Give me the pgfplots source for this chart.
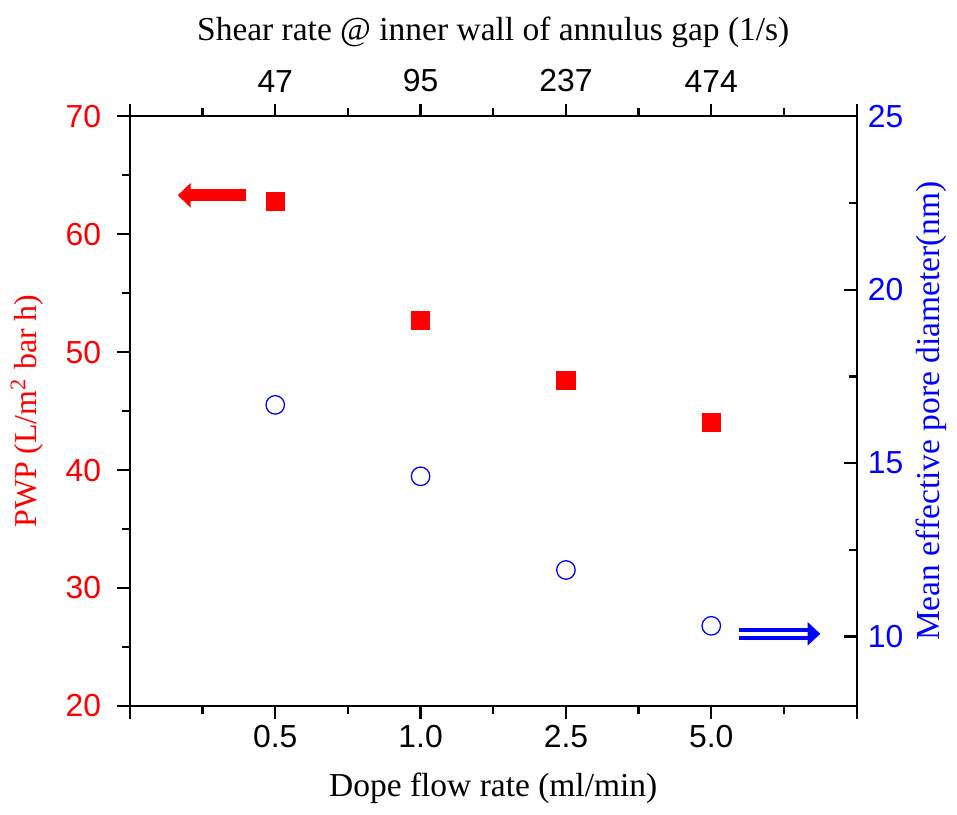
\documentclass[border=0pt]{standalone}
\usepackage{pgfplots}
\pgfplotsset{compat=1.18}
\usepackage{fontspec}
\setmainfont{Liberation Serif}
\newfontfamily\arial{Liberation Sans}
\usetikzlibrary{arrows.meta}

% PWP (left axis) and pore size (right axis) vs dope flow rate
\pgfplotstableread{
x pwp
1 62.8
2 52.7
3 47.6
4 44.0
}\pwpdata
\pgfplotstableread{
x pore
1 16.68
2 14.62
3 11.92
4 10.31
}\poredata

\pgfplotsset{
  twin/.style={
    scale only axis, width=228pt, height=185pt,
    xmin=0, xmax=5,
    xtick={0,1,2,3,4,5}, minor x tick num=1,
    tick align=outside,
    major tick length=4pt, minor tick length=2.5pt,
    tick style={black, line width=0.7pt},
    axis line style={line width=0.7pt},
    ticklabel style={font=\arial\fontsize{10}{12}\selectfont},
    label style={font=\fontsize{10.5}{12}\selectfont},
    /pgf/number format/assume math mode=true,
  },
}

\begin{document}
\begin{tikzpicture}
\begin{axis}[
    twin,
    axis x line*=bottom, axis y line*=left,
    xticklabels={,0.5,1.0,2.5,5.0,},
    xticklabel style={yshift=1.5pt},
    ymin=20, ymax=70, ytick={20,30,...,70}, minor y tick num=1,
    yticklabel style={red, xshift=-1.5pt},
    xlabel={Dope flow rate (ml/min)},
    xlabel style={yshift=-1pt},
    ylabel={PWP (L/m\textsuperscript{2} bar h)},
    ylabel style={red, font=\fontsize{10}{12}\selectfont},
]
    \addplot[only marks, mark=square*, mark size=2.8pt, red] table[x=x, y=pwp] {\pwpdata};
    \draw[red, line width=3.8pt, -{Triangle[length=4pt, width=7.5pt]}]
        (axis cs:0.80,63.3) -- (axis cs:0.33,63.3);
\end{axis}
\begin{axis}[
    twin,
    axis x line*=top, axis y line*=right,
    ytick align=inside,
    xticklabels={,47,95,237,474,},
    ymin=8, ymax=25, ytick={10,15,20,25}, minor y tick num=1,
    yticklabel style={blue},
    xlabel={Shear rate @ inner wall of annulus gap (1/s)},
    ylabel={Mean effective pore diameter(nm)},
    ylabel style={blue, yshift=3pt},
]
    \addplot[only marks, mark=o, mark size=2.9pt, blue, thin] table[x=x, y=pore] {\poredata};
    \draw[blue, line width=1.4pt, double=white, double distance=1.1pt,
          -{Triangle[length=4pt, width=7.2pt]}]
        (axis cs:4.19,10.08) -- (axis cs:4.75,10.08);
\end{axis}
% blank strip above the top title, as in the original figure
\path ([yshift=2pt]current bounding box.north);
\end{tikzpicture}
\end{document}
